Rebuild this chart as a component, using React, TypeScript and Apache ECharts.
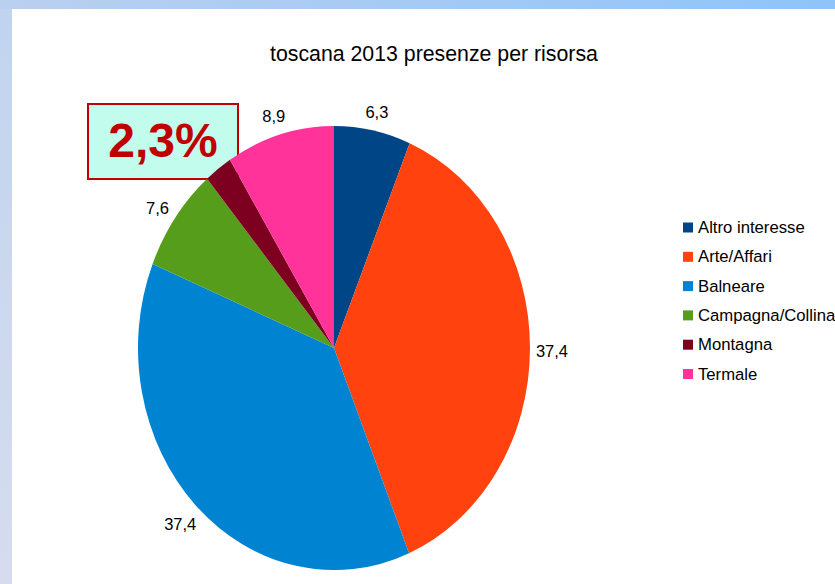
import React, { useEffect, useRef } from "react";
import * as echarts from "echarts";

const chartTitle = "toscana 2013 presenze per risorsa";
const categories = [
  "Altro interesse",
  "Arte/Affari",
  "Balneare",
  "Campagna/Collina",
  "Montagna",
  "Termale",
];
const values = [6.3, 37.4, 37.4, 7.6, 2.3, 8.9];
const colors = ["#004586", "#ff420e", "#0084d1", "#579d1c", "#7e0021", "#ff3399"];
const calloutCategory = "Montagna";

const FONT = "'Liberation Sans', Arial, sans-serif";

export default function App() {
  const ref = useRef<HTMLDivElement>(null);

  useEffect(() => {
    if (!ref.current) return;
    const chart = echarts.init(ref.current, undefined, { renderer: "svg" });

    const total = values.reduce((a, b) => a + b, 0);
    const starts: number[] = [];
    let acc = 0;
    values.forEach((v) => {
      starts.push(acc);
      acc += v;
    });

    const cx = 322;
    const cy = 339;
    const rx = 196;
    const ry = 222;
    const labelGap = 22;
    const fmt = (v: number) => String(v).replace(".", ",");

    const series = categories.map((name, i) => ({
      type: "custom",
      name,
      coordinateSystem: "none",
      itemStyle: { color: colors[i] },
      data: [[values[i]]],
      renderItem: (params: any, api: any) => {
        const v = api.value(0) as number;
        const s = starts[params.seriesIndex];
        const a0 = -Math.PI / 2 + (2 * Math.PI * s) / total;
        const a1 = a0 + (2 * Math.PI * v) / total;
        const mid = ((s + v / 2) / total) * 2 * Math.PI;
        const sx = Math.sin(mid);
        const cyv = Math.cos(mid);
        const lx = cx + rx * sx + labelGap * sx;
        const ly = cy - ry * cyv - labelGap * cyv + 3;
        const children: any[] = [
          {
            type: "sector",
            x: cx,
            y: cy,
            scaleY: ry / rx,
            shape: { cx: 0, cy: 0, r: rx, r0: 0, startAngle: a0, endAngle: a1, clockwise: true },
            style: { fill: colors[params.seriesIndex] },
          },
        ];
        if (categories[params.seriesIndex] !== calloutCategory) {
          children.push({
            type: "text",
            x: lx,
            y: ly,
            style: {
              text: fmt(v),
              fill: "#000000",
              fontSize: 16.5,
              fontFamily: FONT,
              align: "center",
              verticalAlign: "middle",
            },
          });
        }
        return { type: "group", children };
      },
    }));

    const calloutValue = values[categories.indexOf(calloutCategory)];

    chart.setOption({
      animation: false,
      backgroundColor: "#ffffff",
      title: {
        text: chartTitle,
        left: 253,
        top: 28,
        textStyle: {
          fontFamily: FONT,
          fontSize: 21.3,
          fontWeight: "normal",
          color: "#000000",
          lineHeight: 24,
        },
      },
      legend: {
        orient: "vertical",
        left: 671,
        top: 210,
        padding: 0,
        icon: "rect",
        itemWidth: 10,
        itemHeight: 10,
        itemGap: 12.3,
        data: categories,
        textStyle: {
          fontFamily: FONT,
          fontSize: 16.7,
          color: "#000000",
          lineHeight: 16,
          padding: [0, 0, 0, 0],
        },
      },
      graphic: [
        {
          type: "group",
          left: 75,
          top: 94,
          z: 100,
          children: [
            {
              type: "rect",
              shape: { x: 0, y: 0, width: 150, height: 75 },
              style: { fill: "#c2fcec", stroke: "#c00000", lineWidth: 2 },
            },
            {
              type: "text",
              x: 75,
              y: 36,
              style: {
                text: fmt(calloutValue) + "%",
                fill: "#c00000",
                fontSize: 48,
                fontWeight: "bold",
                fontFamily: FONT,
                align: "center",
                verticalAlign: "middle",
              },
            },
          ],
        },
      ],
      series,
    });

    return () => chart.dispose();
  }, []);

  return (
    <div
      style={{
        position: "fixed",
        left: 0,
        top: 0,
        width: 835,
        height: 584,
        background: "linear-gradient(to bottom, #c0d4ef, #d6dcee)",
        overflow: "hidden",
      }}
    >
      <div
        style={{
          position: "absolute",
          left: 0,
          top: 0,
          width: 835,
          height: 9,
          background: "linear-gradient(to right, #bad0ef, #a9cbf3 40%, #8ec4fa)",
        }}
      />
      <div
        ref={ref}
        style={{
          position: "absolute",
          left: 12,
          top: 9,
          width: 823,
          height: 575,
          background: "#ffffff",
        }}
      />
    </div>
  );
}
